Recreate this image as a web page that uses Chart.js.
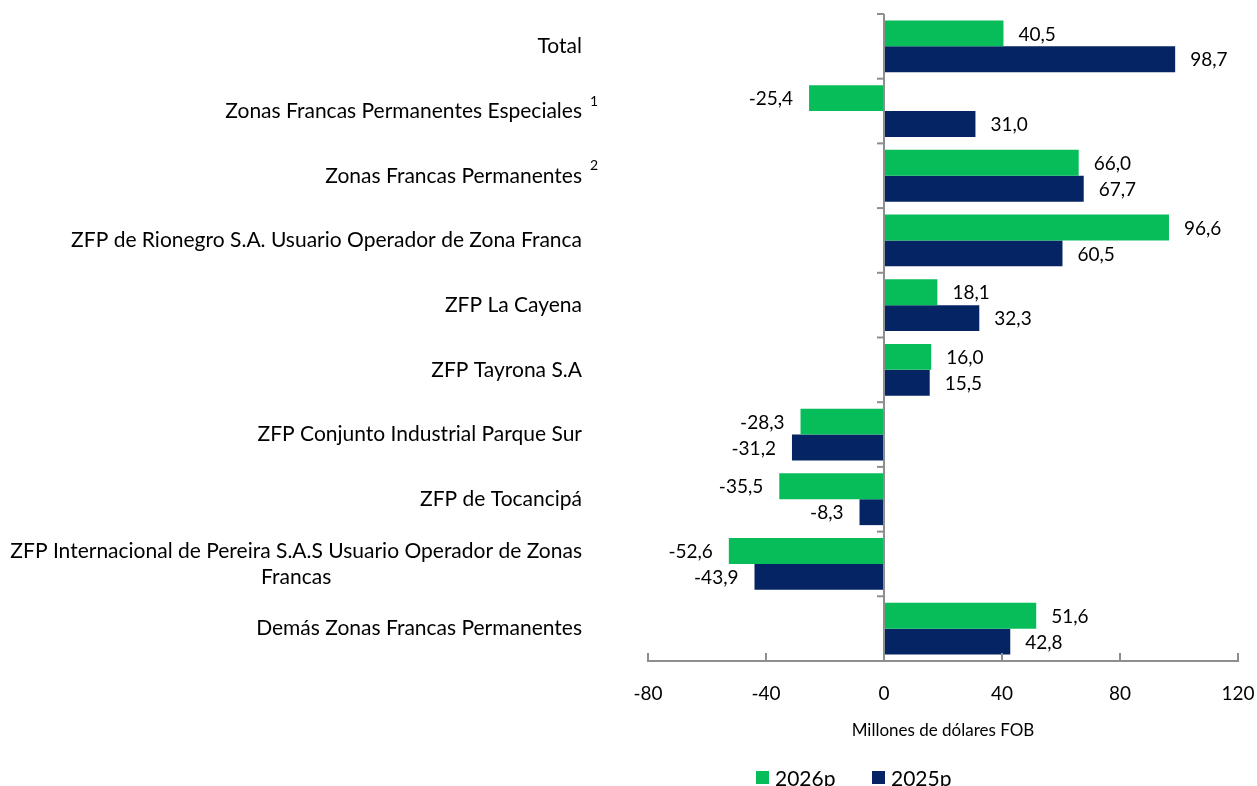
<!DOCTYPE html>
<html>
<head>
<meta charset="utf-8">
<script src="https://cdn.jsdelivr.net/npm/chart.js@4.4.1/dist/chart.umd.min.js"></script>
<style>
  html, body { margin: 0; padding: 0; background: #fff; }
</style>
</head>
<body>
<canvas id="zfChart" width="1257" height="786"></canvas>
<script>
// categories (a nested array = label on two lines)
const categories = [
  'Total',
  'Zonas Francas Permanentes Especiales',
  'Zonas Francas Permanentes',
  'ZFP de Rionegro S.A. Usuario Operador de Zona Franca',
  'ZFP La Cayena',
  'ZFP Tayrona S.A',
  'ZFP Conjunto Industrial Parque Sur',
  'ZFP de Tocancipá',
  ['ZFP Internacional de Pereira S.A.S Usuario Operador de Zonas', 'Francas'],
  'Demás Zonas Francas Permanentes'
];
const notes = ['', '1', '2', '', '', '', '', '', '', ''];

const values2026 = [40.5, -25.4, 66.0, 96.6, 18.1, 16.0, -28.3, -35.5, -52.6, 51.6];
const values2025 = [98.7, 31.0, 67.7, 60.5, 32.3, 15.5, -31.2, -8.3, -43.9, 42.8];

const seriesNames = ['2026p', '2025p'];
const xTicks = [-80, -40, 0, 40, 80, 120];

const green = '#07BD5A';
const navy = '#042463';
const axisGray = '#8E8E8E';
const FONT = 'Lato, "Open Sans", sans-serif';

function fmt(v) {
  return v.toFixed(1).replace('.', ',');
}

// draws category labels, value labels, zero line, tick marks and legend
const decorPlugin = {
  id: 'decor',
  afterDatasetsDraw(chart) {
    const ctx = chart.ctx;
    const xs = chart.scales.x;
    const ys = chart.scales.y;
    const area = chart.chartArea;
    const x0 = xs.getPixelForValue(0);
    const band = ys.getPixelForValue(1) - ys.getPixelForValue(0);

    ctx.save();
    ctx.strokeStyle = axisGray;
    ctx.lineWidth = 2;
    // zero line
    ctx.beginPath();
    ctx.moveTo(x0, area.top);
    ctx.lineTo(x0, area.bottom);
    ctx.stroke();
    // category separators on zero line
    for (let i = 0; i < categories.length; i++) {
      const yb = ys.getPixelForValue(i) - band / 2;
      ctx.beginPath();
      ctx.moveTo(x0 - 7, yb);
      ctx.lineTo(x0, yb);
      ctx.stroke();
    }
    // x ticks pointing up
    xTicks.forEach(t => {
      if (t === 0) return;
      const px = xs.getPixelForValue(t);
      ctx.beginPath();
      ctx.moveTo(px, area.bottom - 8);
      ctx.lineTo(px, area.bottom);
      ctx.stroke();
    });

    // value labels
    ctx.fillStyle = '#000';
    ctx.font = '19px ' + FONT;
    ctx.textBaseline = 'middle';
    chart.data.datasets.forEach((ds, di) => {
      chart.getDatasetMeta(di).data.forEach((bar, i) => {
        const v = ds.data[i];
        if (v >= 0) {
          ctx.textAlign = 'left';
          ctx.fillText(fmt(v), bar.x + 15, bar.y + 1);
        } else {
          ctx.textAlign = 'right';
          ctx.fillText(fmt(v), bar.x - 16, bar.y + 1);
        }
      });
    });

    // category labels
    const rightEdge = 582;
    ctx.font = '21px ' + FONT;
    ctx.textAlign = 'center';
    categories.forEach((cat, i) => {
      const lines = Array.isArray(cat) ? cat : [cat];
      const cy = ys.getPixelForValue(i);
      const maxW = Math.max(...lines.map(l => ctx.measureText(l).width));
      const cx = rightEdge - maxW / 2;
      const lh = 26;
      const startY = cy - (lines.length - 1) * lh / 2;
      lines.forEach((l, k) => ctx.fillText(l, cx, startY + k * lh));
      if (notes[i]) {
        ctx.save();
        ctx.font = '14px ' + FONT;
        ctx.textAlign = 'left';
        ctx.fillText(notes[i], rightEdge + 8, cy - 10);
        ctx.restore();
      }
    });

    // legend
    const legendY = 777;
    const legendX = [756, 872];
    ctx.font = '21px ' + FONT;
    ctx.textAlign = 'left';
    chart.data.datasets.forEach((ds, di) => {
      ctx.fillStyle = ds.backgroundColor;
      ctx.fillRect(legendX[di], legendY - 6, 13, 13);
      ctx.fillStyle = '#000';
      ctx.fillText(ds.label, legendX[di] + 19, legendY + 2);
    });
    ctx.restore();
  }
};

new Chart(document.getElementById('zfChart'), {
  type: 'bar',
  data: {
    labels: categories,
    datasets: [
      { label: seriesNames[0], data: values2026, backgroundColor: green, categoryPercentage: 0.8, barPercentage: 1.0 },
      { label: seriesNames[1], data: values2025, backgroundColor: navy, categoryPercentage: 0.8, barPercentage: 1.0 }
    ]
  },
  options: {
    indexAxis: 'y',
    responsive: false,
    animation: false,
    layout: { padding: { top: 14, right: 19, left: 0, bottom: 0 } },
    plugins: {
      legend: { display: false },
      tooltip: { enabled: false }
    },
    scales: {
      x: {
        min: -80,
        max: 120,
        afterBuildTicks: s => { s.ticks = xTicks.map(v => ({ value: v })); },
        afterFit: s => { s.height = 125; s.paddingLeft = 0; s.paddingRight = 0; },
        grid: { display: false, drawTicks: false },
        border: { display: true, color: axisGray, width: 2 },
        ticks: { color: '#000', font: { family: FONT, size: 19 }, padding: 21 },
        title: {
          display: true,
          text: 'Millones de dólares FOB',
          color: '#000',
          font: { family: FONT, size: 17 },
          padding: { top: 0, bottom: 45 }
        }
      },
      y: {
        afterFit: s => { s.width = 648; },
        grid: { display: false },
        border: { display: false },
        ticks: { display: false }
      }
    }
  },
  plugins: [decorPlugin]
});
</script>
</body>
</html>
